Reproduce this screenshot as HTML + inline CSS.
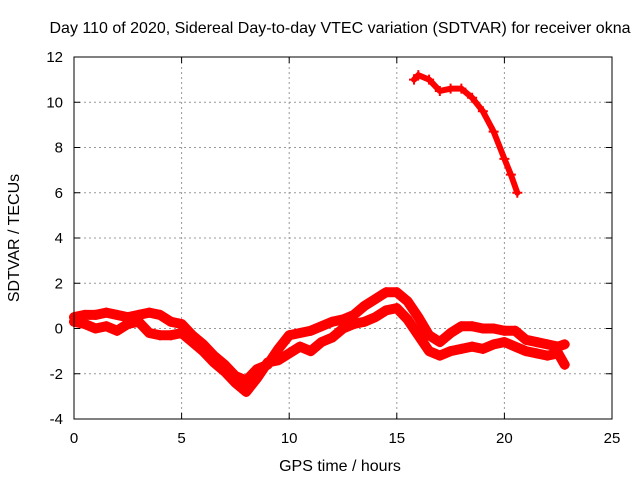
<!DOCTYPE html>
<html><head><meta charset="utf-8"><style>
body{margin:0;background:#fff;}
svg{display:block;font-family:"Liberation Sans",sans-serif;}
</style></head><body>
<svg id="chart" width="640" height="480">
<text x="340" y="33" text-anchor="middle" font-size="16">Day 110 of 2020, Sidereal Day-to-day VTEC variation (SDTVAR) for receiver okna</text>
<text x="340" y="471" text-anchor="middle" font-size="16">GPS time / hours</text>
<text transform="translate(19,238) rotate(-90)" text-anchor="middle" font-size="16">SDTVAR / TECUs</text>
<g id="grid"></g><g id="marks"></g>
<rect x="74" y="57" width="538" height="362" fill="none" stroke="#000" stroke-width="1"/>
<g id="ticks"></g>
</svg>
<script>
const xTicks=[0,5,10,15,20,25];
const yTicks=[-4,-2,0,2,4,6,8,10,12];
const aHours=[0,0.5,1,1.5,2,2.5,3,3.5,4,4.5,5,5.5,6,6.5,7,7.5,8,8.5,9,9.5,10,10.5,11,11.5,12,12.5,13,13.5,14,14.5,15,15.5,16,16.5,17,17.5,18,18.5,19,19.5,20,20.5,21,21.5,22,22.5,22.8];
const aValues=[0.5,0.6,0.6,0.7,0.6,0.5,0.6,0.7,0.6,0.3,0.2,-0.3,-0.7,-1.2,-1.6,-2.1,-2.3,-1.8,-1.6,-0.9,-0.3,-0.2,-0.1,0.1,0.3,0.4,0.6,1.0,1.3,1.6,1.6,1.2,0.5,-0.3,-0.6,-0.2,0.1,0.1,0.0,0.0,-0.1,-0.1,-0.5,-0.6,-0.7,-0.8,-0.7];
const bHours=aHours;
const bValues=[0.3,0.2,0.0,0.1,-0.1,0.2,0.3,-0.2,-0.3,-0.3,-0.2,-0.6,-1.0,-1.5,-1.9,-2.4,-2.8,-2.2,-1.5,-1.4,-1.1,-0.8,-1.0,-0.6,-0.4,0.0,0.2,0.3,0.5,0.8,0.9,0.4,-0.3,-1.0,-1.2,-1.0,-0.9,-0.8,-0.9,-0.7,-0.6,-0.8,-1.0,-1.1,-1.2,-1.1,-1.6];
const cHours=[15.8,16,16.5,17,17.5,18,18.5,19,19.5,20,20.3,20.6];
const cValues=[11.0,11.2,11.0,10.5,10.6,10.6,10.2,9.6,8.7,7.5,6.8,6.0];
const NS="http://www.w3.org/2000/svg";
const X=h=>74+h*(538/25), Y=v=>419-(v+4)*(362/16);
const grid=document.getElementById('grid'),ticks=document.getElementById('ticks'),marks=document.getElementById('marks');
function mk(tag,attrs,parent){const e=document.createElementNS(NS,tag);for(const k in attrs)e.setAttribute(k,attrs[k]);parent.appendChild(e);return e;}
xTicks.forEach(t=>{
 if(t>0&&t<25){const g=mk('line',{x1:X(t),x2:X(t),y1:57,y2:419,stroke:'#999','stroke-dasharray':'2,3'},grid);
 
 }
 mk('line',{x1:X(t),x2:X(t),y1:419,y2:413,stroke:'#000'},ticks);
 mk('line',{x1:X(t),x2:X(t),y1:57,y2:63,stroke:'#000'},ticks);
 const l=mk('text',{x:X(t),y:443,'text-anchor':'middle','font-size':'15'},ticks);l.textContent=t;
 
 
});
yTicks.forEach(t=>{
 if(t>-4&&t<12){const g=mk('line',{x1:74,x2:612,y1:Y(t),y2:Y(t),stroke:'#999','stroke-dasharray':'2,3'},grid);
 
 }
 mk('line',{x1:74,x2:80,y1:Y(t),y2:Y(t),stroke:'#000'},ticks);
 mk('line',{x1:612,x2:606,y1:Y(t),y2:Y(t),stroke:'#000'},ticks);
 const l=mk('text',{x:63,y:Y(t)+5,'text-anchor':'end','font-size':'15'},ticks);l.textContent=t;
 
 
});
function series(hs,vs,w,name){
 const p=mk('polyline',{points:hs.map((h,i)=>X(h)+','+Y(vs[i])).join(' '),fill:'none',stroke:'#f00','stroke-width':w,'stroke-linejoin':'round','stroke-linecap':'round'},marks);
 
 
 hs.forEach((h,i)=>{const c=mk('path',{d:`M${X(h)-5},${Y(vs[i])}h10M${X(h)},${Y(vs[i])-5}v10`,stroke:'#f00','stroke-width':2},marks);
 
 });
}
series(aHours,aValues,10,'series-upper-band');
series(bHours,bValues,10,'series-lower-band');
series(cHours,cValues,6,'series-high-arc');
</script>
</body></html>
